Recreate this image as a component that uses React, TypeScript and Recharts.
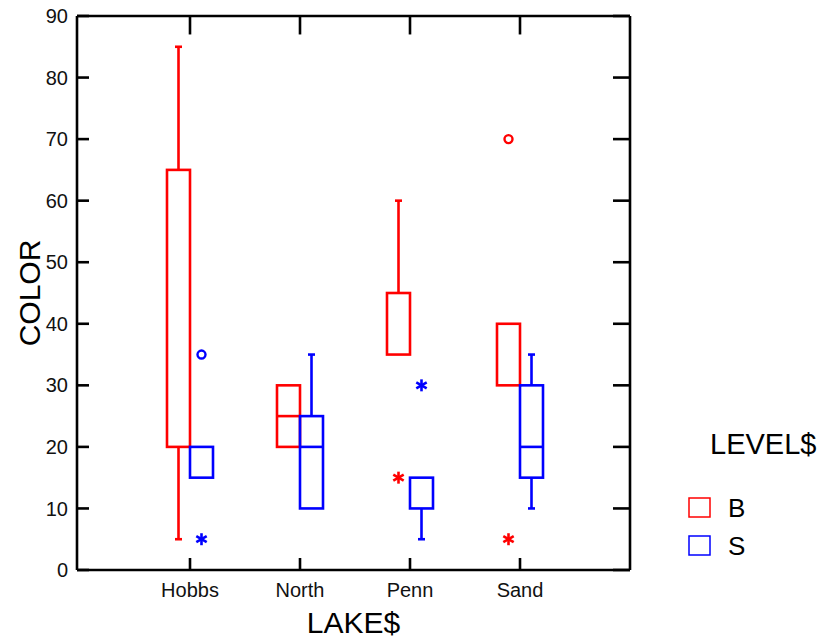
import React from "react";
import { ComposedChart, Bar, Scatter, XAxis, YAxis, Label, ReferenceLine } from "recharts";

const lakes = ["Hobbs", "North", "Penn", "Sand"];
const yTicks = [0, 10, 20, 30, 40, 50, 60, 70, 80, 90];

// LEVEL$ = B
const bLow = [5, null, null, null];
const bQ1 = [20, 20, 35, 30];
const bMedian = [null, 25, null, null];
const bQ3 = [65, 30, 45, 40];
const bHigh = [85, null, 60, null];
const bOutside = [null, null, null, 70];
const bFarOut = [null, null, 15, 5];

// LEVEL$ = S
const sLow = [null, null, 5, 10];
const sQ1 = [15, 10, 10, 15];
const sMedian = [null, 20, null, 20];
const sQ3 = [20, 25, 15, 30];
const sHigh = [null, 35, null, 35];
const sOutside = [35, null, null, null];
const sFarOut = [5, null, 30, null];

const RED = "#ff0000";
const BLUE = "#0000ff";
const FONT = "'Liberation Sans', Arial, sans-serif";
const BOX_W = 23;

const data = lakes.map((lake, i) => ({
  lake,
  bBox: [bQ1[i], bQ3[i]],
  bLow: bLow[i],
  bMedian: bMedian[i],
  bHigh: bHigh[i],
  bOutside: bOutside[i],
  bFarOut: bFarOut[i],
  sBox: [sQ1[i], sQ3[i]],
  sLow: sLow[i],
  sMedian: sMedian[i],
  sHigh: sHigh[i],
  sOutside: sOutside[i],
  sFarOut: sFarOut[i],
}));

function boxShape(prefix: string, color: string) {
  return (props: any) => {
    const { x, y, width, height, payload } = props;
    const [q1, q3] = payload[prefix + "Box"];
    const top = Math.min(y, y + height);
    const h = Math.abs(height);
    const unit = h / (q3 - q1);
    const toY = (v: number) => top + (q3 - v) * unit;
    const cx = x + width / 2;
    const low = payload[prefix + "Low"];
    const high = payload[prefix + "High"];
    const med = payload[prefix + "Median"];
    return (
      <g stroke={color} strokeWidth={2.6} fill="none">
        {high != null && (
          <>
            <line x1={cx} x2={cx} y1={top} y2={toY(high)} />
            <line x1={cx - 3.5} x2={cx + 3.5} y1={toY(high)} y2={toY(high)} />
          </>
        )}
        {low != null && (
          <>
            <line x1={cx} x2={cx} y1={top + h} y2={toY(low)} />
            <line x1={cx - 3.5} x2={cx + 3.5} y1={toY(low)} y2={toY(low)} />
          </>
        )}
        <rect x={x} y={top} width={width} height={h} />
        {med != null && <line x1={x} x2={x + width} y1={toY(med)} y2={toY(med)} />}
      </g>
    );
  };
}

function outlierShape(key: string, color: string, dx: number, kind: "circle" | "star") {
  return (props: any) => {
    const { cx, cy, payload } = props;
    if (payload == null || payload[key] == null || !Number.isFinite(cy)) return <g />;
    const px = cx + dx;
    if (kind === "circle") {
      return <circle cx={px} cy={cy} r={4} fill="none" stroke={color} strokeWidth={2.4} />;
    }
    const r = 6;
    const arms = [0, 60, 120].map((a) => {
      const rad = (a * Math.PI) / 180;
      const ex = Math.sin(rad) * r;
      const ey = Math.cos(rad) * r;
      return <line key={a} x1={px - ex} y1={cy - ey} x2={px + ex} y2={cy + ey} />;
    });
    return (
      <g stroke={color} strokeWidth={2.6}>
        {arms}
      </g>
    );
  };
}

// inward tick marks on the right edge of the frame
const RightTick = (p: any) => <line x1={p.x - 17} x2={p.x} y1={p.y} y2={p.y} stroke="#000" strokeWidth={2.6} />;

function LegendBox() {
  return (
    <svg width={150} height={150} style={{ fontFamily: FONT, display: "block" }}>
      <text x={30} y={34} fontSize={29} fill="#000">LEVEL$</text>
      <rect x={9} y={78} width={21} height={19} fill="none" stroke={RED} strokeWidth={1.5} />
      <text x={48} y={97} fontSize={26} fill="#000">B</text>
      <rect x={9} y={116} width={21} height={19} fill="none" stroke={BLUE} strokeWidth={1.5} />
      <text x={48} y={135} fontSize={26} fill="#000">S</text>
    </svg>
  );
}

export default function App() {
  const tickStyle = { fontSize: 20, fill: "#111", fontFamily: FONT };
  const axisLine = { stroke: "#000", strokeWidth: 2.6 };
  const tickLine = { stroke: "#000", strokeWidth: 2.6 };
  return (
    <div style={{ position: "absolute", left: 0, top: 0, width: 830, height: 641, background: "#fff" }}>
      <ComposedChart
        width={830}
        height={641}
        data={data}
        margin={{ top: 15, right: 199, bottom: 6, left: 17 }}
        barGap={0}
        barSize={BOX_W}
      >
        <XAxis
          dataKey="lake"
          type="category"
          height={65}
          padding={{ left: 58, right: 55 }}
          axisLine={axisLine}
          tickLine={tickLine}
          tickSize={-12}
          tickMargin={25}
          tick={tickStyle}
          interval={0}
        >
          <Label
            content={(p: any) => (
              <text
                x={p.viewBox.x + p.viewBox.width / 2}
                y={p.viewBox.y + 52}
                textAnchor="middle"
                dominantBaseline="central"
                fontSize={30}
                fontFamily={FONT}
                fill="#000"
              >
                LAKE$
              </text>
            )}
          />
        </XAxis>
        <XAxis
          xAxisId="top"
          dataKey="lake"
          type="category"
          orientation="top"
          height={1}
          padding={{ left: 58, right: 55 }}
          axisLine={axisLine}
          tickLine={false}
          tick={false}
          interval={0}
        />
        <YAxis
          type="number"
          domain={[0, 90]}
          ticks={yTicks}
          width={60}
          axisLine={axisLine}
          tickLine={tickLine}
          tickSize={-12}
          tickMargin={21}
          tick={tickStyle}
          interval={0}
        >
          <Label
            content={(p: any) => (
              <text
                x={29}
                y={p.viewBox.y + p.viewBox.height / 2}
                textAnchor="middle"
                dominantBaseline="central"
                fontSize={30}
                fontFamily={FONT}
                fill="#000"
                transform={`rotate(-90, 29, ${p.viewBox.y + p.viewBox.height / 2})`}
              >
                COLOR
              </text>
            )}
          />
        </YAxis>
        <YAxis
          yAxisId="right"
          orientation="right"
          type="number"
          domain={[0, 90]}
          ticks={yTicks}
          width={1}
          axisLine={axisLine}
          tickLine={false}
          tickSize={0}
          tickMargin={0}
          tick={RightTick}
          interval={0}
        />
        {lakes.map((lake) => (
          <ReferenceLine
            key={lake}
            segment={[
              { x: lake, y: 90 },
              { x: lake, y: 87 },
            ]}
            stroke="#000"
            strokeWidth={2.6}
          />
        ))}
        <Bar dataKey="bBox" isAnimationActive={false} shape={boxShape("b", RED)} />
        <Bar dataKey="sBox" isAnimationActive={false} shape={boxShape("s", BLUE)} />
        <Scatter xAxisId="top" yAxisId="right" dataKey="bOutside" isAnimationActive={false} shape={outlierShape("bOutside", RED, -BOX_W / 2, "circle")} />
        <Scatter xAxisId="top" yAxisId="right" dataKey="bFarOut" isAnimationActive={false} shape={outlierShape("bFarOut", RED, -BOX_W / 2, "star")} />
        <Scatter xAxisId="top" yAxisId="right" dataKey="sOutside" isAnimationActive={false} shape={outlierShape("sOutside", BLUE, BOX_W / 2, "circle")} />
        <Scatter xAxisId="top" yAxisId="right" dataKey="sFarOut" isAnimationActive={false} shape={outlierShape("sFarOut", BLUE, BOX_W / 2, "star")} />
      </ComposedChart>
      <div style={{ position: "absolute", left: 680, top: 420 }}>
        <LegendBox />
      </div>
    </div>
  );
}
